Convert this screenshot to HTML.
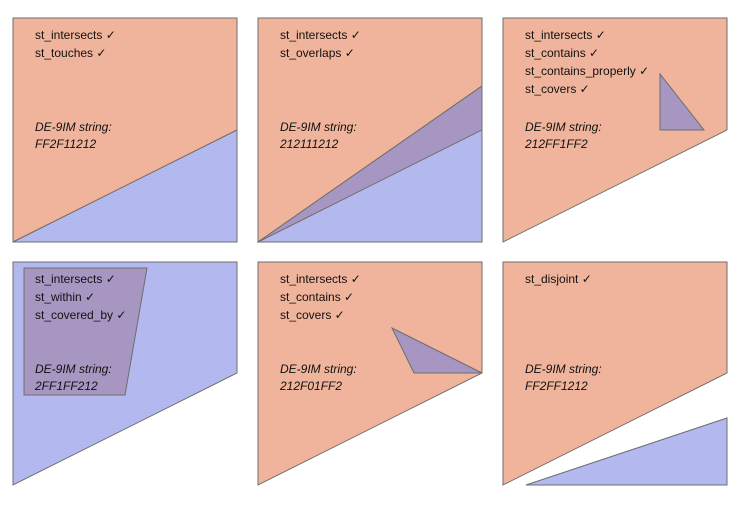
<!DOCTYPE html>
<html><head><style>body{margin:0;background:#fff}svg{display:block}text{font-family:"Liberation Sans",sans-serif;font-size:12px;fill:#111}.i{font-style:italic}</style></head><body>
<svg width="743" height="507" viewBox="0 0 743 507">
<g stroke="#6e6e6e" stroke-width="1">
<!-- P1 -->
<polygon points="13,18 237,18 237,130 13,242" fill="#f0b49c"/>
<polygon points="13,242 237,130 237,242" fill="#b3b9ef"/>
<!-- P2 -->
<polygon points="258,18 482,18 482,130 258,242" fill="#f0b49c"/>
<polygon points="258,242 482,86 482,242" fill="#b3b9ef"/>
<polygon points="258,242 482,86 482,130" fill="#a896c2"/>
<!-- P3 -->
<polygon points="503,18 727,18 727,130 503,242" fill="#f0b49c"/>
<polygon points="660,74 660,130 704,130" fill="#a896c2"/>
<!-- P4 -->
<polygon points="13,262 237,262 237,373 13,485" fill="#b3b9ef"/>
<polygon points="24,268 147,268 125,395 24,395" fill="#a896c2"/>
<!-- P5 -->
<polygon points="258,262 482,262 482,373 258,485" fill="#f0b49c"/>
<polygon points="392,328 482,373 414,373" fill="#a896c2"/>
<!-- P6 -->
<polygon points="503,262 727,262 727,373 503,485" fill="#f0b49c"/>
<polygon points="526,485 727,418 727,485" fill="#b3b9ef"/>
</g>
<text x="35" y="39">st_intersects ✓</text>
<text x="35" y="57">st_touches ✓</text>
<text class="i" x="35" y="131">DE-9IM string:</text>
<text class="i" x="35" y="148">FF2F11212</text>

<text x="280" y="39">st_intersects ✓</text>
<text x="280" y="57">st_overlaps ✓</text>
<text class="i" x="280" y="131">DE-9IM string:</text>
<text class="i" x="280" y="148">212111212</text>

<text x="525" y="39">st_intersects ✓</text>
<text x="525" y="57">st_contains ✓</text>
<text x="525" y="75">st_contains_properly ✓</text>
<text x="525" y="93">st_covers ✓</text>
<text class="i" x="525" y="131">DE-9IM string:</text>
<text class="i" x="525" y="148">212FF1FF2</text>

<text x="35" y="283">st_intersects ✓</text>
<text x="35" y="301">st_within ✓</text>
<text x="35" y="319">st_covered_by ✓</text>
<text class="i" x="35" y="373">DE-9IM string:</text>
<text class="i" x="35" y="390">2FF1FF212</text>

<text x="280" y="283">st_intersects ✓</text>
<text x="280" y="301">st_contains ✓</text>
<text x="280" y="319">st_covers ✓</text>
<text class="i" x="280" y="373">DE-9IM string:</text>
<text class="i" x="280" y="390">212F01FF2</text>

<text x="525" y="283">st_disjoint ✓</text>
<text class="i" x="525" y="373">DE-9IM string:</text>
<text class="i" x="525" y="390">FF2FF1212</text>
</svg>
</body></html>
